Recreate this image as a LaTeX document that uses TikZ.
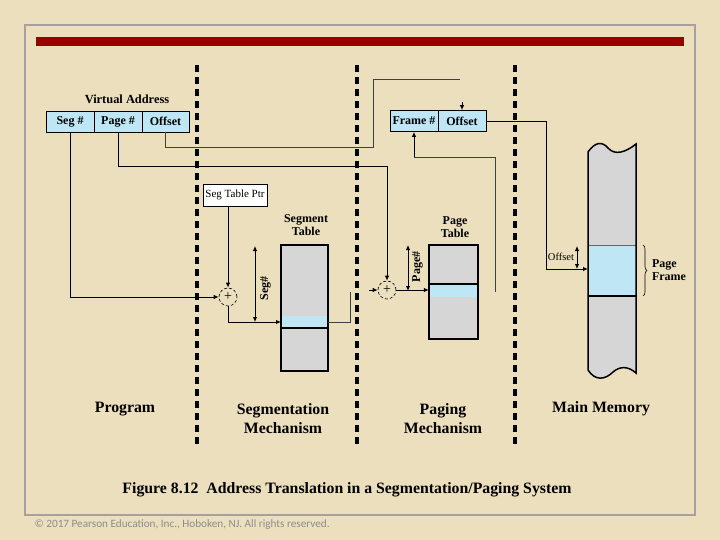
\documentclass[tikz,border=0pt]{standalone}
\usepackage{fontspec}
\setmainfont{Liberation Serif}
\newfontfamily\cpfont{Carlito}
\usetikzlibrary{arrows.meta,decorations.pathreplacing,calc}
\definecolor{bg}{RGB}{236,223,190}
\definecolor{lblue}{RGB}{190,230,245}
\definecolor{tgray}{RGB}{214,214,214}
\definecolor{dred}{RGB}{153,0,0}
\definecolor{bord}{RGB}{168,160,160}
\begin{document}
\begin{tikzpicture}[x=1pt,y=-1pt,
  cell/.style={draw, line width=0.8pt, fill=lblue, minimum height=21pt, inner sep=0pt, font=\bfseries\fontsize{12}{13}\selectfont},
  conn/.style={line width=0.9pt},
  thinconn/.style={line width=0.6pt, draw=black!75},
  arr/.style={-{Latex[length=5pt,width=4.5pt]}},
  dimarr/.style={line width=0.9pt, {Latex[length=5pt,width=4.5pt]}-{Latex[length=5pt,width=4.5pt]}},
  divider/.style={line width=4pt, dash pattern=on 7pt off 5pt},
  plusnode/.style={circle, draw, line width=0.6pt, densely dashed, minimum size=18pt, inner sep=0pt, font=\fontsize{14}{14}\selectfont},
  sidelab/.style={font=\bfseries\fontsize{12}{13.5}\selectfont, align=center},
  biglab/.style={font=\bfseries\fontsize{15.8}{19}\selectfont, align=center},
  tblbox/.style={line width=1.8pt}
]
\useasboundingbox (0,0) rectangle (720,540);
\fill[bg] (0,0) rectangle (720,540);
\draw[bord, line width=1.5pt] (25,25) rectangle (695,515);
\fill[dred] (36,37) rectangle (684,46);

% dividers
\draw[divider] (197,65) -- (197,446);
\draw[divider] (357,65) -- (357,446);
\draw[divider] (515,65) -- (515,446);

% virtual address
\node[font=\bfseries\fontsize{12.4}{13}\selectfont] (va) at (127,99) {Virtual Address};
\node[cell, minimum width=48pt] (seg) at (70,121.5) {Seg \#};
\node[cell, minimum width=48pt] (pg) at (118,121.5) {Page \#};
\node[cell, minimum width=47pt] (off) at (165.5,121.5) {Offset};

% real address
\node[cell, minimum width=48pt] (fr) at (414,121) {Frame \#};
\node[cell, minimum width=48pt] (fo) at (462,121) {Offset};

% seg table ptr and adders
\node[draw, line width=0.8pt, fill=white, minimum width=64pt, minimum height=22pt, inner sep=0pt, font=\fontsize{11}{12}\selectfont] (stp) at (235,195) {Seg Table Ptr};
\node[plusnode] (c1) at (228,297) {+};
\node[plusnode] (c2) at (387,290) {+};

% segment table
\node[sidelab] (stl) at (306,225) {Segment\\Table};
\node[fill=tgray, minimum width=47pt, minimum height=126pt, inner sep=0pt] (st) at (304.5,308) {};
\fill[lblue] (281,316) rectangle (328,328);
\draw[line width=1.2pt] (281,328) -- (328,328);
\draw[tblbox] (st.north west) rectangle (st.south east);

% page table
\node[sidelab] (ptl) at (455,227) {Page\\Table};
\node[fill=tgray, minimum width=49pt, minimum height=94pt, inner sep=0pt] (pt) at (453.5,292) {};
\fill[lblue] (429,284) rectangle (478,297);
\draw[line width=1.2pt] (429,284) -- (478,284);
\draw[tblbox] (pt.north west) rectangle (pt.south east);

% main memory
\fill[tgray] (588,152) .. controls (595,142) and (602,141) .. (608,148)
  .. controls (615,156) and (626,152) .. (636,144) -- (636,373)
  .. controls (628,366) and (620,366) .. (613,372)
  .. controls (605,380) and (595,381) .. (588,370) -- cycle;
\fill[lblue] (588,245) rectangle (636,296);
\draw[line width=0.8pt, black!60] (588,245) -- (636,245);
\draw[line width=1.2pt] (588,296) -- (636,296);
\draw[line width=1.5pt] (588,152) .. controls (595,142) and (602,141) .. (608,148)
  .. controls (615,156) and (626,152) .. (636,144) -- (636,373)
  .. controls (628,366) and (620,366) .. (613,372)
  .. controls (605,380) and (595,381) .. (588,370) -- cycle;
\draw[line width=0.6pt, decorate, decoration={brace, amplitude=4pt}] (643,245) -- (643,296);
\node[sidelab, align=left] (pfl) at (669,270) {Page\\Frame};

% coordinates
\coordinate (stin) at (281,322);
\coordinate (segdimtop) at (255,246);
\coordinate (segdimbot) at (255,322);
\coordinate (stout) at (328,322);
\coordinate (segup) at (350,292);
\coordinate (c2in) at (369,290);
\coordinate (pgturn) at (387,166);
\coordinate (offturn) at (373,147);
\coordinate (offtop) at (460,79);
\coordinate (foin) at (462,102);
\coordinate (pgdimtop) at (408,245);
\coordinate (pgdimbot) at (408,291);
\coordinate (ptout) at (495,292);
\coordinate (memin) at (588,269);
\coordinate (mdimtop) at (577,246);
\coordinate (mdimbot) at (577,269);

% connectors
\draw[conn,arr] (seg.south) |- (c1.west);
\draw[conn,arr] (stp.south -| c1) -- (c1.north);
\draw[conn,arr] (c1.south) |- (stin);
\draw[dimarr] (segdimtop) -- (segdimbot);
\node[rotate=90, font=\bfseries\fontsize{12}{13}\selectfont] (segl) at (265.5,288) {Seg\#};
\draw[thinconn] (stout) -| (segup);
\draw[conn,arr] (c2in) -- (c2.west);
\draw[conn,arr] (pg.south) |- (pgturn) -- (c2.north);
\draw[dimarr] (pgdimtop) -- (pgdimbot);
\node[rotate=90, font=\bfseries\fontsize{12}{13}\selectfont] (pgl) at (417.5,267) {Page\#};
\draw[conn,arr] (c2.east) -- (pt.west |- c2);
\draw[thinconn] (off.south) |- (offturn) |- (offtop);
\draw[conn,arr] (foin) -- (fo.north);
\draw[thinconn] (ptout) |- ($(fr.south)+(0,25)$);
\draw[conn,arr] ($(fr.south)+(0,25)$) -- (fr.south);
\draw[conn,arr] (fo.east) -| (546,269) -- (memin);
\draw[dimarr] (mdimtop) -- (mdimbot);
\node[font=\fontsize{10.5}{11}\selectfont] (mofl) at (561,257) {Offset};

% bottom labels
\node[biglab] (prog) at (125,409) {Program};
\node[biglab] (segm) at (283,418.5) {Segmentation\\Mechanism};
\node[biglab] (pagm) at (443,418.5) {Paging\\Mechanism};
\node[biglab] (mainm) at (601,409) {Main Memory};

\node[font=\bfseries\fontsize{15.8}{17}\selectfont] (cap) at (347,490) {Figure 8.12\ \ Address Translation in a Segmentation/Paging System};
\node[anchor=west, text=black!45, font=\cpfont\fontsize{11.2}{12}\selectfont] (copy) at (31,525) {© 2017 Pearson Education, Inc., Hoboken, NJ. All rights reserved.};
\end{tikzpicture}
\end{document}
